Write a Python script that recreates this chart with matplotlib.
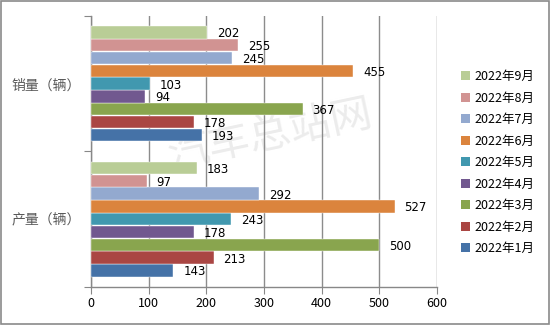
import numpy as np
import matplotlib.pyplot as plt
from matplotlib.patches import Rectangle, Patch

plt.rcParams['font.family'] = ['Noto Sans CJK SC', 'DejaVu Sans']

categories = ['产量（辆）', '销量（辆）']
months = ['2022年1月', '2022年2月', '2022年3月', '2022年4月', '2022年5月',
          '2022年6月', '2022年7月', '2022年8月', '2022年9月']
production = [143, 213, 500, 178, 243, 527, 292, 97, 183]
sales = [193, 178, 367, 94, 103, 455, 245, 255, 202]
colors = ['#4572A7', '#AA4643', '#89A54E', '#71588F', '#4198AF',
          '#DB843D', '#93A9CF', '#D19392', '#B9CD96']

fig = plt.figure(figsize=(5.5, 3.25), dpi=100)
ax = fig.add_axes([0.1655, 0.117, 0.629, 0.834])

n = len(months)
h = 0.85 / n
y = np.arange(len(categories))
for i in range(n):
    vals = [production[i], sales[i]]
    pos = y - 0.425 + (i + 0.5) * h
    ax.barh(pos, vals, height=h * 0.97, color=colors[i], zorder=3,
            edgecolor='white', linewidth=0.3)
    for p, v in zip(pos, vals):
        ax.annotate(str(v), (v, p), xytext=(7, -1), textcoords='offset points',
                    ha='left', va='center', fontsize=8.5, color='black',
                    family=['DejaVu Sans'], zorder=4)

ax.set_xlim(0, 600)
ax.set_ylim(-0.5, 1.5)
ax.set_xticks(range(0, 601, 100))
ax.set_yticks([-0.5, 0.5, 1.5])
ax.set_yticklabels([])
ax.set_yticks(y, minor=True)
ax.set_yticklabels(categories, minor=True, fontsize=10, color='#595959')
ax.tick_params(axis='y', which='minor', length=0, pad=7)
ax.tick_params(axis='y', which='major', length=5, color='#888888', direction='out')
ax.tick_params(axis='x', length=5, color='#888888', direction='out',
               labelsize=9, labelcolor='black', pad=2)
ax.grid(axis='x', color='#8c8c8c', linewidth=1, zorder=1)
for s in ['top', 'right']:
    ax.spines[s].set_visible(False)
for s in ['left', 'bottom']:
    ax.spines[s].set_color('#888888')
    ax.spines[s].set_linewidth(1)

# watermark, behind the axes
fig.text(0.491, 0.585, '汽车总站网', fontsize=30, color='#ececec', rotation=12,
         ha='center', va='center', zorder=-1)
ax.set_facecolor('none')

handles = [Patch(facecolor=colors[i], edgecolor='none') for i in range(n - 1, -1, -1)]
labels = [months[i] for i in range(n - 1, -1, -1)]
fig.legend(handles, labels, loc='center left', bbox_to_anchor=(0.817, 0.5),
           frameon=False, fontsize=9, handlelength=0.75, handleheight=0.75,
           handletextpad=0.4, labelspacing=0.68)

fig.patches.append(Rectangle((0.002, 0.003), 0.996, 0.994, transform=fig.transFigure,
                             fill=False, edgecolor='#8a8a8a', linewidth=1.2))

fig.savefig('out.png', dpi=100)
